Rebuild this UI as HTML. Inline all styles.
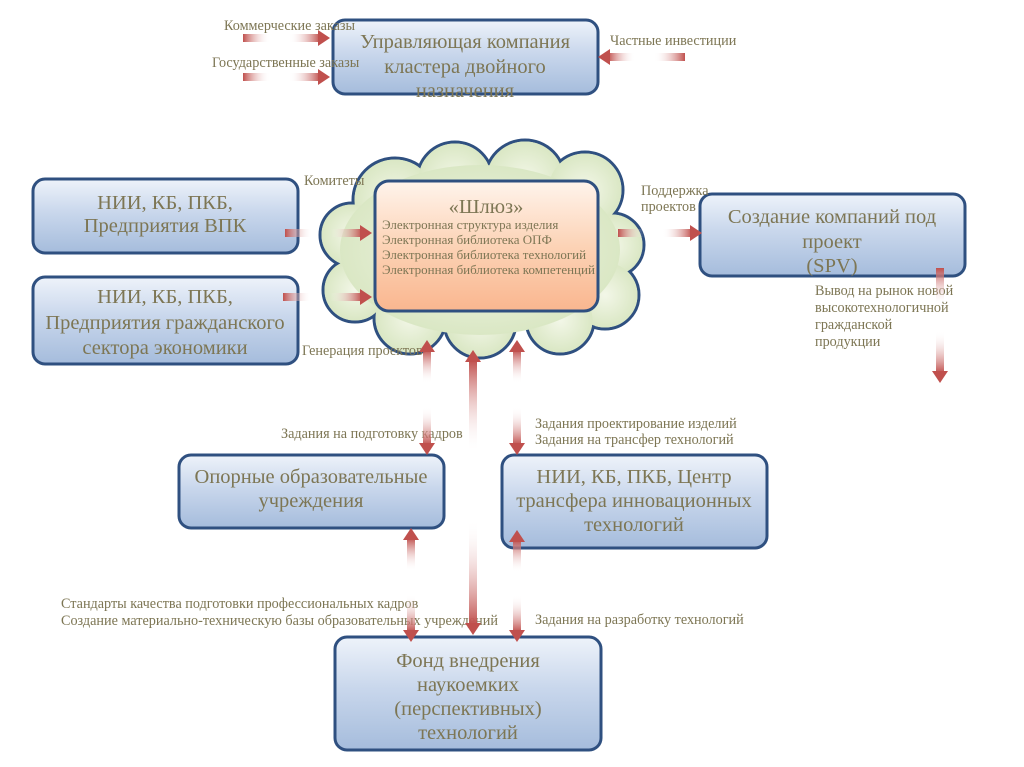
<!DOCTYPE html>
<html><head><meta charset="utf-8"><style>
html,body{margin:0;padding:0;background:#fff;}
svg{display:block;}
text{font-family:"Liberation Serif","DejaVu Serif",serif;fill:#7d7654;}
.b{font-size:20.5px;}
.s{font-size:14.2px;}
.i{font-size:13px;}
</style></head><body>
<svg width="1024" height="767" viewBox="0 0 1024 767" xmlns="http://www.w3.org/2000/svg">
<defs>
<linearGradient id="box" x1="0" y1="0" x2="0" y2="1">
<stop offset="0" stop-color="#eef3fa"/><stop offset="0.45" stop-color="#c9d7ec"/><stop offset="1" stop-color="#a5bcdc"/>
</linearGradient>
<linearGradient id="peach" x1="0" y1="0" x2="0" y2="1">
<stop offset="0" stop-color="#fff4ec"/><stop offset="0.5" stop-color="#fcd3b6"/><stop offset="1" stop-color="#f9b68f"/>
</linearGradient>
<radialGradient id="cl" cx="0.5" cy="0.5" r="0.6">
<stop offset="0" stop-color="#f3f7e8"/><stop offset="1" stop-color="#d5e4bd"/>
</radialGradient>
<linearGradient id="gh" x1="0" y1="0" x2="1" y2="0">
<stop offset="0" stop-color="#c0504d"/><stop offset="0.35" stop-color="#fff" stop-opacity="0"/><stop offset="0.6" stop-color="#fff" stop-opacity="0"/><stop offset="1" stop-color="#c0504d"/>
</linearGradient>
<linearGradient id="gv" x1="0" y1="0" x2="0" y2="1">
<stop offset="0" stop-color="#c0504d"/><stop offset="0.35" stop-color="#fff" stop-opacity="0"/><stop offset="0.6" stop-color="#fff" stop-opacity="0"/><stop offset="1" stop-color="#c0504d"/>
</linearGradient>
</defs>

<!-- Cloud -->
<g stroke="#2f5080" stroke-width="3" fill="#dbe8c6">
<circle cx="395" cy="200" r="42"/><circle cx="455" cy="180" r="38"/><circle cx="525" cy="180" r="40"/>
<circle cx="585" cy="190" r="38"/><circle cx="612" cy="245" r="32"/><circle cx="605" cy="295" r="34"/>
<circle cx="560" cy="320" r="34"/><circle cx="480" cy="322" r="36"/><circle cx="410" cy="318" r="36"/>
<circle cx="355" cy="290" r="32"/><circle cx="352" cy="235" r="32"/>
</g>
<g fill="url(#cl)">
<circle cx="395" cy="200" r="40.5"/><circle cx="455" cy="180" r="36.5"/><circle cx="525" cy="180" r="38.5"/>
<circle cx="585" cy="190" r="36.5"/><circle cx="612" cy="245" r="30.5"/><circle cx="605" cy="295" r="32.5"/>
<circle cx="560" cy="320" r="32.5"/><circle cx="480" cy="322" r="34.5"/><circle cx="410" cy="318" r="34.5"/>
<circle cx="355" cy="290" r="30.5"/><circle cx="352" cy="235" r="30.5"/>
<ellipse cx="480" cy="250" rx="140" ry="85"/>
</g>

<!-- Boxes -->
<g stroke="#2f5080" stroke-width="3" fill="url(#box)">
<rect x="333" y="20" width="265" height="74" rx="12"/>
<rect x="33" y="179" width="265" height="74" rx="12"/>
<rect x="33" y="277" width="265" height="87" rx="12"/>
<rect x="700" y="194" width="265" height="82" rx="12"/>
<rect x="179" y="455" width="265" height="73" rx="12"/>
<rect x="502" y="455" width="265" height="93" rx="12"/>
<rect x="335" y="637" width="266" height="113" rx="12"/>
<rect x="375" y="181" width="223" height="130" rx="14" fill="url(#peach)"/>
</g>

<!-- Box texts -->
<g class="b" text-anchor="middle">
<text x="465" y="48">Управляющая компания</text>
<text x="465" y="73">кластера двойного</text>
<text x="465" y="97">назначения</text>
<text x="165" y="209">НИИ, КБ, ПКБ,</text>
<text x="165" y="232">Предприятия ВПК</text>
<text x="165" y="303">НИИ, КБ, ПКБ,</text>
<text x="165" y="329">Предприятия гражданского</text>
<text x="165" y="354">сектора экономики</text>
<text x="832" y="223">Создание компаний под</text>
<text x="832" y="248">проект</text>
<text x="832" y="272">(SPV)</text>
<text x="311" y="483">Опорные образовательные</text>
<text x="311" y="507">учреждения</text>
<text x="634" y="483">НИИ, КБ, ПКБ, Центр</text>
<text x="634" y="507">трансфера инновационных</text>
<text x="634" y="531">технологий</text>
<text x="468" y="667">Фонд внедрения</text>
<text x="468" y="691">наукоемких</text>
<text x="468" y="715">(перспективных)</text>
<text x="468" y="739">технологий</text>
<text x="486" y="213">«Шлюз»</text>
</g>
<g class="i">
<text x="382" y="229">Электронная структура изделия</text>
<text x="382" y="244">Электронная библиотека ОПФ</text>
<text x="382" y="259">Электронная библиотека технологий</text>
<text x="382" y="274">Электронная библиотека компетенций</text>
</g>

<!-- Labels -->
<g class="s">
<text x="224" y="30">Коммерческие заказы</text>
<text x="212" y="67">Государственные заказы</text>
<text x="610" y="45">Частные инвестиции</text>
<text x="304" y="185">Комитеты</text>
<text x="641" y="195">Поддержка</text>
<text x="641" y="211">проектов</text>
<text x="815" y="295">Вывод на рынок новой</text>
<text x="815" y="312">высокотехнологичной</text>
<text x="815" y="329">гражданской</text>
<text x="815" y="346">продукции</text>
<text x="302" y="355">Генерация проектов</text>
<text x="281" y="438">Задания на подготовку кадров</text>
<text x="535" y="428">Задания проектирование изделий</text>
<text x="535" y="444">Задания на трансфер технологий</text>
<text x="61" y="608">Стандарты качества подготовки профессиональных кадров</text>
<text x="61" y="625">Создание материально-техническую базы образовательных учреждений</text>
<text x="535" y="624">Задания на разработку технологий</text>
</g>

<!-- Horizontal arrows -->
<g>
<rect x="243" y="34" width="77" height="8" fill="url(#gh)"/><polygon points="318,30 330,38 318,46" fill="#c0504d"/>
<rect x="243" y="73" width="77" height="8" fill="url(#gh)"/><polygon points="318,69 330,77 318,85" fill="#c0504d"/>
<rect x="608" y="53" width="77" height="8" fill="url(#gh)"/><polygon points="610,49 598,57 610,65" fill="#c0504d"/>
<rect x="285" y="229" width="77" height="8" fill="url(#gh)"/><polygon points="360,225 372,233 360,241" fill="#c0504d"/>
<rect x="283" y="293" width="79" height="8" fill="url(#gh)"/><polygon points="360,289 372,297 360,305" fill="#c0504d"/>
<rect x="618" y="229" width="74" height="8" fill="url(#gh)"/><polygon points="690,225 702,233 690,241" fill="#c0504d"/>
</g>
<!-- Vertical arrows -->
<g fill="#c0504d">
<rect x="936" y="268" width="8" height="105" fill="url(#gv)"/><polygon points="932,371 940,383 948,371"/>
<rect x="423" y="350" width="8" height="95" fill="url(#gv)"/><polygon points="419,352 427,340 435,352"/><polygon points="419,443 427,455 435,443"/>
<rect x="469" y="360" width="8" height="265" fill="url(#gv)"/><polygon points="465,362 473,350 481,362"/><polygon points="465,623 473,635 481,623"/>
<rect x="513" y="350" width="8" height="95" fill="url(#gv)"/><polygon points="509,352 517,340 525,352"/><polygon points="509,443 517,455 525,443"/>
<rect x="407" y="538" width="8" height="94" fill="url(#gv)"/><polygon points="403,540 411,528 419,540"/><polygon points="403,630 411,642 419,630"/>
<rect x="513" y="540" width="8" height="92" fill="url(#gv)"/><polygon points="509,542 517,530 525,542"/><polygon points="509,630 517,642 525,630"/>
</g>
</svg>
</body></html>
